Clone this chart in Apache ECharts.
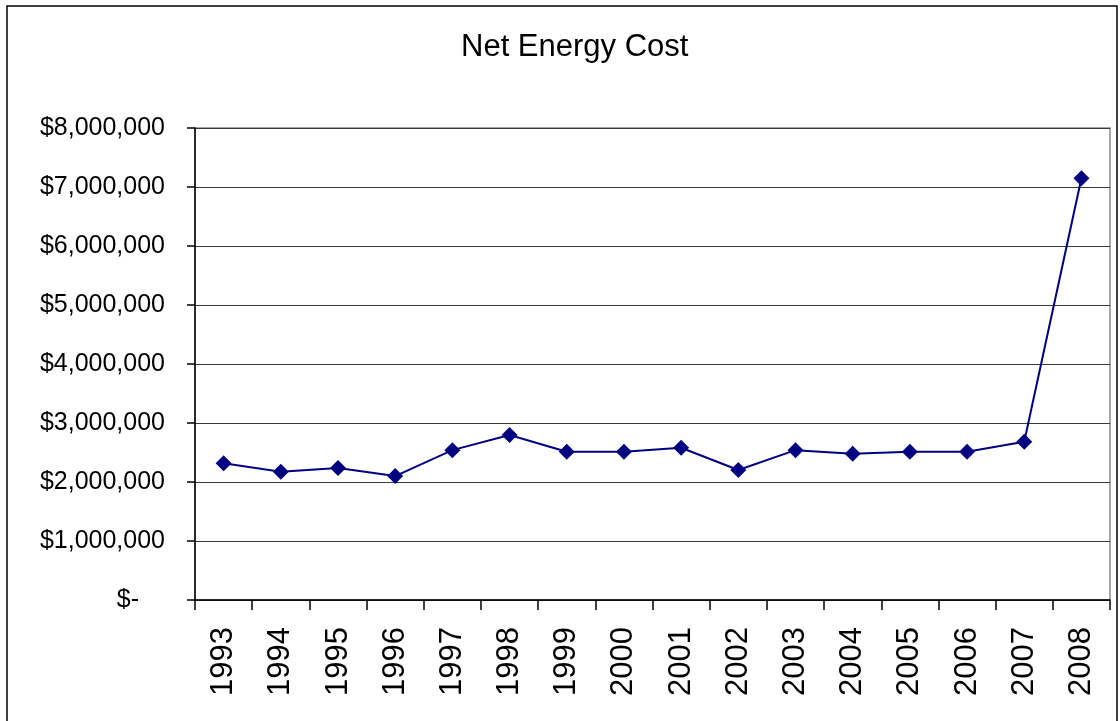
<!DOCTYPE html>
<html>
<head>
<meta charset="utf-8">
<script src="https://cdn.jsdelivr.net/npm/echarts@6/dist/echarts.min.js"></script>
<style>html,body{margin:0;padding:0;background:#fff}#c{width:1120px;height:721px}</style>
</head>
<body>
<div id="c"></div>
<script>
const years = ['1993','1994','1995','1996','1997','1998','1999','2000','2001','2002','2003','2004','2005','2006','2007','2008'];
const netEnergyCost = [2317000,2175000,2237000,2100000,2540000,2797000,2514000,2514000,2580000,2203000,2540000,2480000,2514000,2514000,2683000,7147000];
const titleText = 'Net Energy Cost';

const chart = echarts.init(document.getElementById('c'));
chart.setOption({
  animation: false,
  backgroundColor: '#fff',
  title: {
    text: titleText, left: 456, top: 27,
    textStyle: {fontFamily: 'Liberation Sans', fontSize: 31, fontWeight: 'normal', color: '#000'}
  },
  graphic: [{
    type: 'rect', shape: {x: 7, y: 6, width: 1110, height: 800},
    style: {fill: 'none', stroke: '#000', lineWidth: 1.5}, silent: true
  }],
  grid: {left: 195, right: 10, top: 128, bottom: 121, show: true, borderColor: '#8a8a8a', borderWidth: 1.5},
  xAxis: {
    type: 'category', data: years, boundaryGap: true,
    axisLine: {lineStyle: {color: '#000', width: 1.5}},
    axisTick: {show: true, length: 10, lineStyle: {color: '#000', width: 1.5}},
    axisLabel: {rotate: 90, margin: 27, fontFamily: 'Liberation Sans', fontSize: 31, color: '#000', interval: 0}
  },
  yAxis: {
    type: 'value', min: 0, max: 8000000, interval: 1000000,
    axisLine: {show: true, lineStyle: {color: '#000', width: 1.5}},
    axisTick: {show: true, length: 8, lineStyle: {color: '#000', width: 1.5}},
    splitLine: {lineStyle: {color: '#3a3a3a', width: 1.2}},
    axisLabel: {
      margin: 30, fontFamily: 'Liberation Sans', fontSize: 25, color: '#000',
      formatter: function (v) {
        if (v === 0) return '{z|$-}';
        return '$' + v.toLocaleString('en-US');
      },
      rich: {z: {fontFamily: 'Liberation Sans', fontSize: 25, color: '#000', padding: [0, 26, 0, 0]}}
    }
  },
  series: [{
    type: 'line', data: netEnergyCost,
    symbol: 'diamond', symbolSize: 16,
    lineStyle: {color: '#000080', width: 2},
    itemStyle: {color: '#000080'}
  }]
});
</script>
</body>
</html>
